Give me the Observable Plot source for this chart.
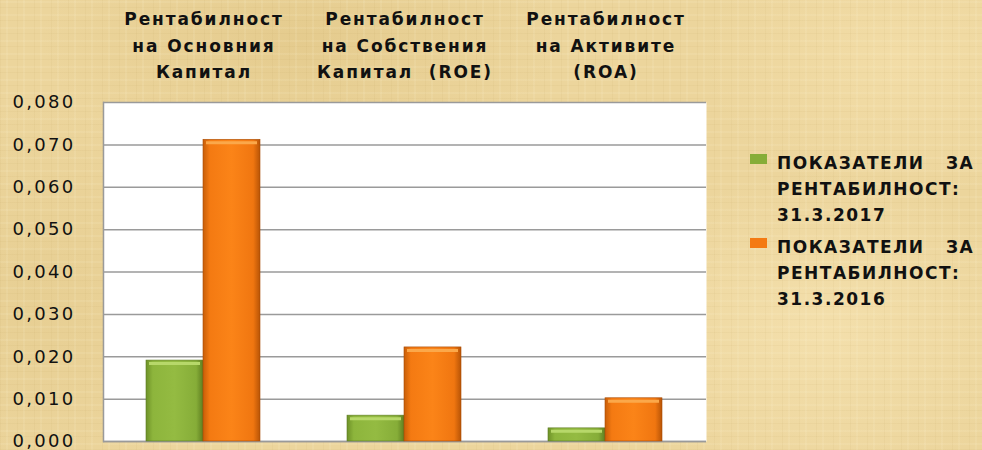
<!DOCTYPE html>
<html>
<head>
<meta charset="utf-8">
<script src="https://cdn.jsdelivr.net/npm/d3@7"></script>
<script src="https://cdn.jsdelivr.net/npm/@observablehq/plot@0.6"></script>
<style>
  html, body { margin: 0; padding: 0; }
  body {
    width: 982px; height: 450px; overflow: hidden; position: relative;
    background-color: #ecd59c;
    background-image:
      repeating-linear-gradient(90deg, rgba(180,150,80,0.07) 0 1px, rgba(255,255,255,0) 1px 6px, rgba(255,248,220,0.10) 6px 8px, rgba(255,255,255,0) 8px 17px),
      repeating-linear-gradient(0deg, rgba(180,150,80,0.07) 0 1px, rgba(255,255,255,0) 1px 5px, rgba(255,248,220,0.10) 5px 7px, rgba(255,255,255,0) 7px 13px),
      radial-gradient(ellipse 220px 160px at 820px 330px, rgba(250,232,185,0.55), rgba(250,232,185,0)),
      radial-gradient(ellipse 260px 120px at 300px 40px, rgba(215,185,115,0.35), rgba(215,185,115,0)),
      radial-gradient(ellipse 200px 140px at 900px 60px, rgba(250,230,180,0.45), rgba(250,230,180,0)),
      radial-gradient(ellipse 180px 200px at 40px 300px, rgba(222,195,130,0.35), rgba(222,195,130,0));
    font-family: "DejaVu Sans", sans-serif;
  }
  #chart { position: absolute; left: 0; top: 0; }
  #chart svg { background: transparent; overflow: visible; }
  g[aria-label="y-axis tick label"] text { letter-spacing: 2.3px; }
  g[aria-label="x-axis tick label"] text { letter-spacing: 1.9px; }
  #legend { position: absolute; left: 750px; top: 150px; }
  .item { position: relative; padding-left: 27px; font-weight: bold; font-size: 17px;
          letter-spacing: 1.5px; word-spacing: 14px; line-height: 26px; color: #111; margin-bottom: 6px; white-space: pre; }
  .sw { position: absolute; left: 0; top: 4px; width: 17px; height: 10px; }
</style>
</head>
<body>
<div id="chart"></div>
<div id="legend"></div>
<script>
const categories = ["Рентабилност\nна Основния\nКапитал", "Рентабилност\nна Собствения\nКапитал  (ROE)", "Рентабилност\nна Активите\n(ROA)"];
const seriesNames = ["ПОКАЗАТЕЛИ ЗА\nРЕНТАБИЛНОСТ:\n31.3.2017", "ПОКАЗАТЕЛИ ЗА\nРЕНТАБИЛНОСТ:\n31.3.2016"];
const values2017 = [0.0191, 0.0061, 0.0031];
const values2016 = [0.0712, 0.0222, 0.0102];
const yTicks = [0, 0.01, 0.02, 0.03, 0.04, 0.05, 0.06, 0.07, 0.08];
const seriesColors = ["#86ad38", "#f47a12"];

const d2017 = categories.map((c, i) => ({cat: c, value: values2017[i]}));
const d2016 = categories.map((c, i) => ({cat: c, value: values2016[i]}));

function defs() {
  const ns = "http://www.w3.org/2000/svg";
  const d = document.createElementNS(ns, "defs");
  d.innerHTML = `
    <linearGradient id="gGreen" x1="0" x2="1" y1="0" y2="0">
      <stop offset="0" stop-color="#6e9228"/>
      <stop offset="0.12" stop-color="#8db53c"/>
      <stop offset="0.5" stop-color="#94bb42"/>
      <stop offset="0.88" stop-color="#86ad38"/>
      <stop offset="1" stop-color="#5f7f20"/>
    </linearGradient>
    <linearGradient id="gOrange" x1="0" x2="1" y1="0" y2="0">
      <stop offset="0" stop-color="#c85e08"/>
      <stop offset="0.12" stop-color="#f47a12"/>
      <stop offset="0.5" stop-color="#fb8418"/>
      <stop offset="0.88" stop-color="#f07610"/>
      <stop offset="1" stop-color="#b85406"/>
    </linearGradient>`;
  return d;
}

const fmt = v => d3.format(".3f")(v).replace(".", ",");
const greenInset = {insetLeft: 43, insetRight: 101};
const orangeInset = {insetLeft: 100, insetRight: 44};

const chart = Plot.plot({
  width: 720,
  height: 450,
  marginTop: 102,
  marginBottom: 9,
  marginLeft: 103,
  marginRight: 14,
  style: {fontFamily: "DejaVu Sans, sans-serif", color: "#111", background: "transparent"},
  x: {domain: categories, padding: 0, label: null},
  y: {domain: [0, 0.08], label: null},
  marks: [
    defs,
    Plot.frame({fill: "white", stroke: null}),
    Plot.gridY(yTicks, {stroke: "#9a9a9a", strokeOpacity: 1, strokeWidth: 1.5}),
    Plot.ruleY([0], {stroke: "#9a9a9a", strokeWidth: 1.5}),
    Plot.frame({anchor: "left", stroke: "#9a9a9a", strokeWidth: 1.5}),
    Plot.axisY(yTicks, {anchor: "left", tickSize: 0, tickPadding: 28, tickFormat: fmt, fontSize: 18, label: null}),
    Plot.axisX({anchor: "top", tickSize: 0, tickPadding: 25, fontSize: 17, fontWeight: "bold", lineHeight: 1.53, label: null}),
    Plot.barY(d2017, {x: "cat", y: "value", fill: "url(#gGreen)", stroke: "#5d7a22", strokeWidth: 0.6, ...greenInset}),
    Plot.barY(d2016, {x: "cat", y: "value", fill: "url(#gOrange)", stroke: "#a84c06", strokeWidth: 0.6, ...orangeInset}),
    Plot.tickY(d2017, {x: "cat", y: "value", stroke: "#b7d86a", strokeWidth: 3, dy: 3, insetLeft: 46, insetRight: 104}),
    Plot.tickY(d2016, {x: "cat", y: "value", stroke: "#fba84a", strokeWidth: 3, dy: 3, insetLeft: 103, insetRight: 47})
  ]
});
document.getElementById("chart").appendChild(chart);

const legend = document.getElementById("legend");
seriesNames.forEach((name, i) => {
  const item = document.createElement("div");
  item.className = "item";
  const sw = document.createElement("span");
  sw.className = "sw";
  sw.style.background = seriesColors[i];
  item.appendChild(sw);
  item.appendChild(document.createTextNode(name));
  legend.appendChild(item);
});
</script>
</body>
</html>
